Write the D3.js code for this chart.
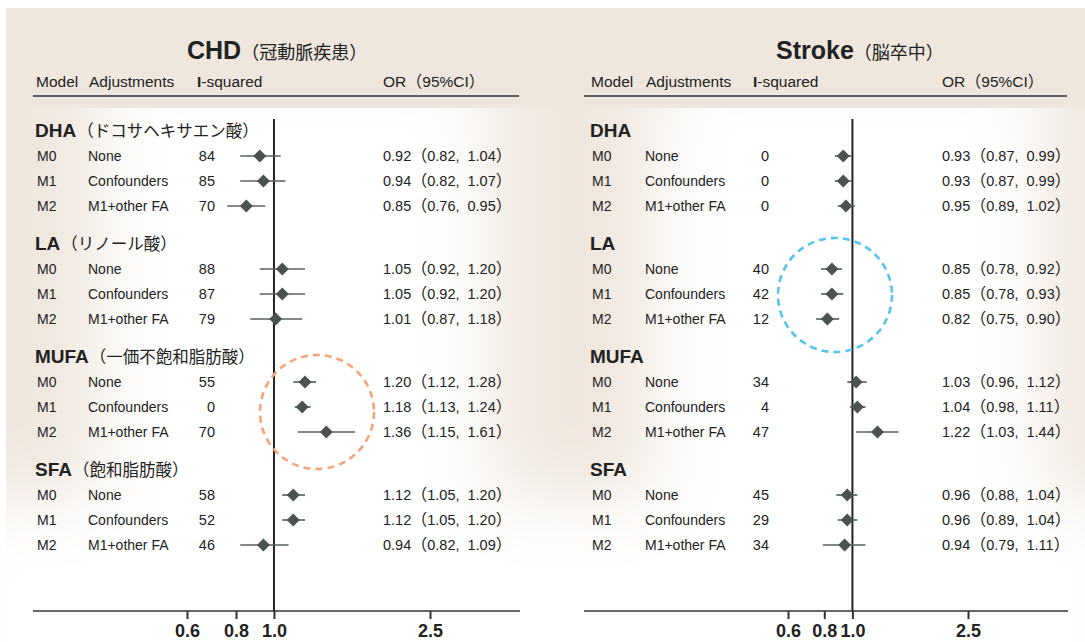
<!DOCTYPE html>
<html>
<head>
<meta charset="utf-8">
<script src="https://cdn.jsdelivr.net/npm/d3@7"></script>
<style>
  html, body { margin: 0; padding: 0; background: #fff; }
  svg { display: block; }
  text { font-family: "Liberation Sans", Arial, "Noto Sans CJK JP", sans-serif; fill: #222; }
  .cjk { font-family: "Noto Sans CJK JP", "Liberation Sans", sans-serif; }
</style>
</head>
<body>
<svg id="chart" width="1085" height="642"></svg>
<script>
// ---- data ----
const groupNames = ["DHA", "LA", "MUFA", "SFA"];
const groupNamesJa = ["（ドコサヘキサエン酸）", "（リノール酸）", "（一価不飽和脂肪酸）", "（飽和脂肪酸）"];
const models = ["M0", "M1", "M2"];
const adjustments = ["None", "Confounders", "M1+other FA"];
const tickValues = [0.6, 0.8, 1.0, 2.5];

// CHD (coronary heart disease): per group, per model
const chdI2  = [[84, 85, 70], [88, 87, 79], [55, 0, 70], [58, 52, 46]];
const chdOR  = [[0.92, 0.94, 0.85], [1.05, 1.05, 1.01], [1.20, 1.18, 1.36], [1.12, 1.12, 0.94]];
const chdLo  = [[0.82, 0.82, 0.76], [0.92, 0.92, 0.87], [1.12, 1.13, 1.15], [1.05, 1.05, 0.82]];
const chdHi  = [[1.04, 1.07, 0.95], [1.20, 1.20, 1.18], [1.28, 1.24, 1.61], [1.20, 1.20, 1.09]];

// Stroke
const strokeI2 = [[0, 0, 0], [40, 42, 12], [34, 4, 47], [45, 29, 34]];
const strokeOR = [[0.93, 0.93, 0.95], [0.85, 0.85, 0.82], [1.03, 1.04, 1.22], [0.96, 0.96, 0.94]];
const strokeLo = [[0.87, 0.87, 0.89], [0.78, 0.78, 0.75], [0.96, 0.98, 1.03], [0.88, 0.89, 0.79]];
const strokeHi = [[0.99, 0.99, 1.02], [0.92, 0.93, 0.90], [1.12, 1.11, 1.44], [1.04, 1.04, 1.11]];

const svg = d3.select("#chart");
const W = 1085, H = 642;

// ---- background: beige paper with a soft white glow behind each panel ----
const defs = svg.append("defs");
defs.append("filter").attr("id", "glow").attr("x", "-50%").attr("y", "-50%").attr("width", "200%").attr("height", "200%")
  .append("feGaussianBlur").attr("stdDeviation", 36);
defs.append("clipPath").attr("id", "lowerClip")
  .append("rect").attr("x", 0).attr("y", 108).attr("width", W).attr("height", H - 108);

svg.append("rect").attr("x", 6).attr("y", 8).attr("width", W - 6).attr("height", H - 8).attr("fill", "#efe7de");
const glow = svg.append("g").attr("clip-path", "url(#lowerClip)").append("g").attr("filter", "url(#glow)");
glow.append("rect").attr("x", 100).attr("y", 60).attr("width", 390).attr("height", 700).attr("fill", "#fff");
glow.append("rect").attr("x", 655).attr("y", 60).attr("width", 390).attr("height", 700).attr("fill", "#fff");
glow.append("rect").attr("x", -60).attr("y", 500).attr("width", W + 120).attr("height", 300).attr("fill", "#fff");

// ---- panels ----
const rowY = d3.scaleLinear().domain([0, 3]).range([130, 469]); // group header centres
const rowStep = 25;

const panels = [
  {
    title: "CHD", titleJa: "（冠動脈疾患）", showJa: true,
    left: 33, right: 520, titleX: 187,
    x: d3.scaleLog().domain([0.6, 2.5]).range([187, 430]),
    cols: { model: 36, adj: 89, i2: 197, i2Right: 215, or: 383 },
    I2: chdI2, OR: chdOR, Lo: chdLo, Hi: chdHi
  },
  {
    title: "Stroke", titleJa: "（脳卒中）", showJa: false,
    left: 584, right: 1068, titleX: 776,
    x: d3.scaleLog().domain([0.6, 2.5]).range([788, 968]),
    cols: { model: 591, adj: 646, i2: 753, i2Right: 769, or: 942 },
    I2: strokeI2, OR: strokeOR, Lo: strokeLo, Hi: strokeHi
  }
];

const fmt = d3.format(".2f");

panels.forEach(p => {
  const g = svg.append("g");

  // title
  const t = g.append("text").attr("x", p.titleX).attr("y", 59);
  t.append("tspan").attr("font-weight", "bold").attr("font-size", 25).text(p.title);
  t.append("tspan").attr("class", "cjk").attr("font-size", 18).text(p.titleJa);

  // column headers
  const hy = 87;
  g.append("text").attr("x", p.cols.model).attr("y", hy).attr("font-size", 15.5).text("Model");
  g.append("text").attr("x", p.cols.adj).attr("y", hy).attr("font-size", 15.5).text("Adjustments");
  const ih = g.append("text").attr("x", p.cols.i2).attr("y", hy).attr("font-size", 15.5);
  ih.append("tspan").attr("font-weight", "bold").text("I");
  ih.append("tspan").text("-squared");
  const oh = g.append("text").attr("x", p.cols.or).attr("y", hy).attr("font-size", 15.5);
  oh.append("tspan").text("OR");
  oh.append("tspan").attr("class", "cjk").attr("font-size", 16).text("（");
  oh.append("tspan").text("95%CI");
  oh.append("tspan").attr("class", "cjk").attr("font-size", 16).text("）");

  g.append("line").attr("x1", p.left).attr("x2", p.right - 1).attr("y1", 96).attr("y2", 96)
    .attr("stroke", "#333").attr("stroke-width", 1.3);

  // reference line at OR = 1
  g.append("line").attr("x1", p.x(1)).attr("x2", p.x(1)).attr("y1", 119).attr("y2", 611)
    .attr("stroke", "#222").attr("stroke-width", 2);

  groupNames.forEach((name, gi) => {
    const gy = rowY(gi);
    const gl = g.append("text").attr("x", p.cols.model - 1).attr("y", gy + 7);
    gl.append("tspan").attr("font-weight", "bold").attr("font-size", 19).text(name);
    if (p.showJa) gl.append("tspan").attr("class", "cjk").attr("font-size", 16.5).attr("dx", 1).text(groupNamesJa[gi]);

    models.forEach((m, mi) => {
      const y = gy + 26 + mi * rowStep;
      const by = y + 5;
      g.append("text").attr("x", p.cols.model + 1).attr("y", by).attr("font-size", 14).text(m);
      g.append("text").attr("x", p.cols.adj - 1).attr("y", by).attr("font-size", 14).text(adjustments[mi]);
      g.append("text").attr("x", p.cols.i2Right).attr("y", by).attr("font-size", 14.5)
        .attr("text-anchor", "end").text(p.I2[gi][mi]);

      const orText = g.append("text").attr("x", p.cols.or).attr("y", by).attr("font-size", 14.5);
      orText.append("tspan").text(fmt(p.OR[gi][mi]));
      orText.append("tspan").attr("class", "cjk").attr("font-size", 16).text("（");
      orText.append("tspan").text(fmt(p.Lo[gi][mi]) + ",");
      orText.append("tspan").attr("dx", 8).text(fmt(p.Hi[gi][mi]));
      orText.append("tspan").attr("class", "cjk").attr("font-size", 16).text("）");

      // confidence interval and point estimate
      g.append("line").attr("x1", p.x(p.Lo[gi][mi])).attr("x2", p.x(p.Hi[gi][mi]))
        .attr("y1", y).attr("y2", y).attr("stroke", "#5b605f").attr("stroke-width", 1.7);
      const cx = p.x(p.OR[gi][mi]), r = 6.5;
      g.append("path")
        .attr("d", `M${cx},${y - r}L${cx + r},${y}L${cx},${y + r}L${cx - r},${y}Z`)
        .attr("fill", "#4b5351");
    });
  });

  // bottom axis
  g.append("line").attr("x1", p.left).attr("x2", p.right).attr("y1", 611).attr("y2", 611)
    .attr("stroke", "#333").attr("stroke-width", 1.5);
  const ax = g.append("g").attr("transform", "translate(0,611)")
    .call(d3.axisBottom(p.x).tickValues(tickValues).tickFormat(d3.format(".1f")).tickSize(8).tickPadding(5));
  ax.select(".domain").remove();
  ax.selectAll(".tick line").attr("stroke", "#333").attr("stroke-width", 2);
  ax.selectAll(".tick text").attr("font-size", 18).attr("font-weight", "bold").attr("fill", "#222")
    .attr("font-family", "Liberation Sans, Arial, sans-serif");
});

// highlight circles
svg.append("circle").attr("cx", 317).attr("cy", 412).attr("r", 57)
  .attr("fill", "none").attr("stroke", "#f5a47a").attr("stroke-width", 2.6).attr("stroke-dasharray", "7,5");
svg.append("circle").attr("cx", 835).attr("cy", 295).attr("r", 57)
  .attr("fill", "none").attr("stroke", "#55c3ee").attr("stroke-width", 2.6).attr("stroke-dasharray", "7,5");
</script>
</body>
</html>
